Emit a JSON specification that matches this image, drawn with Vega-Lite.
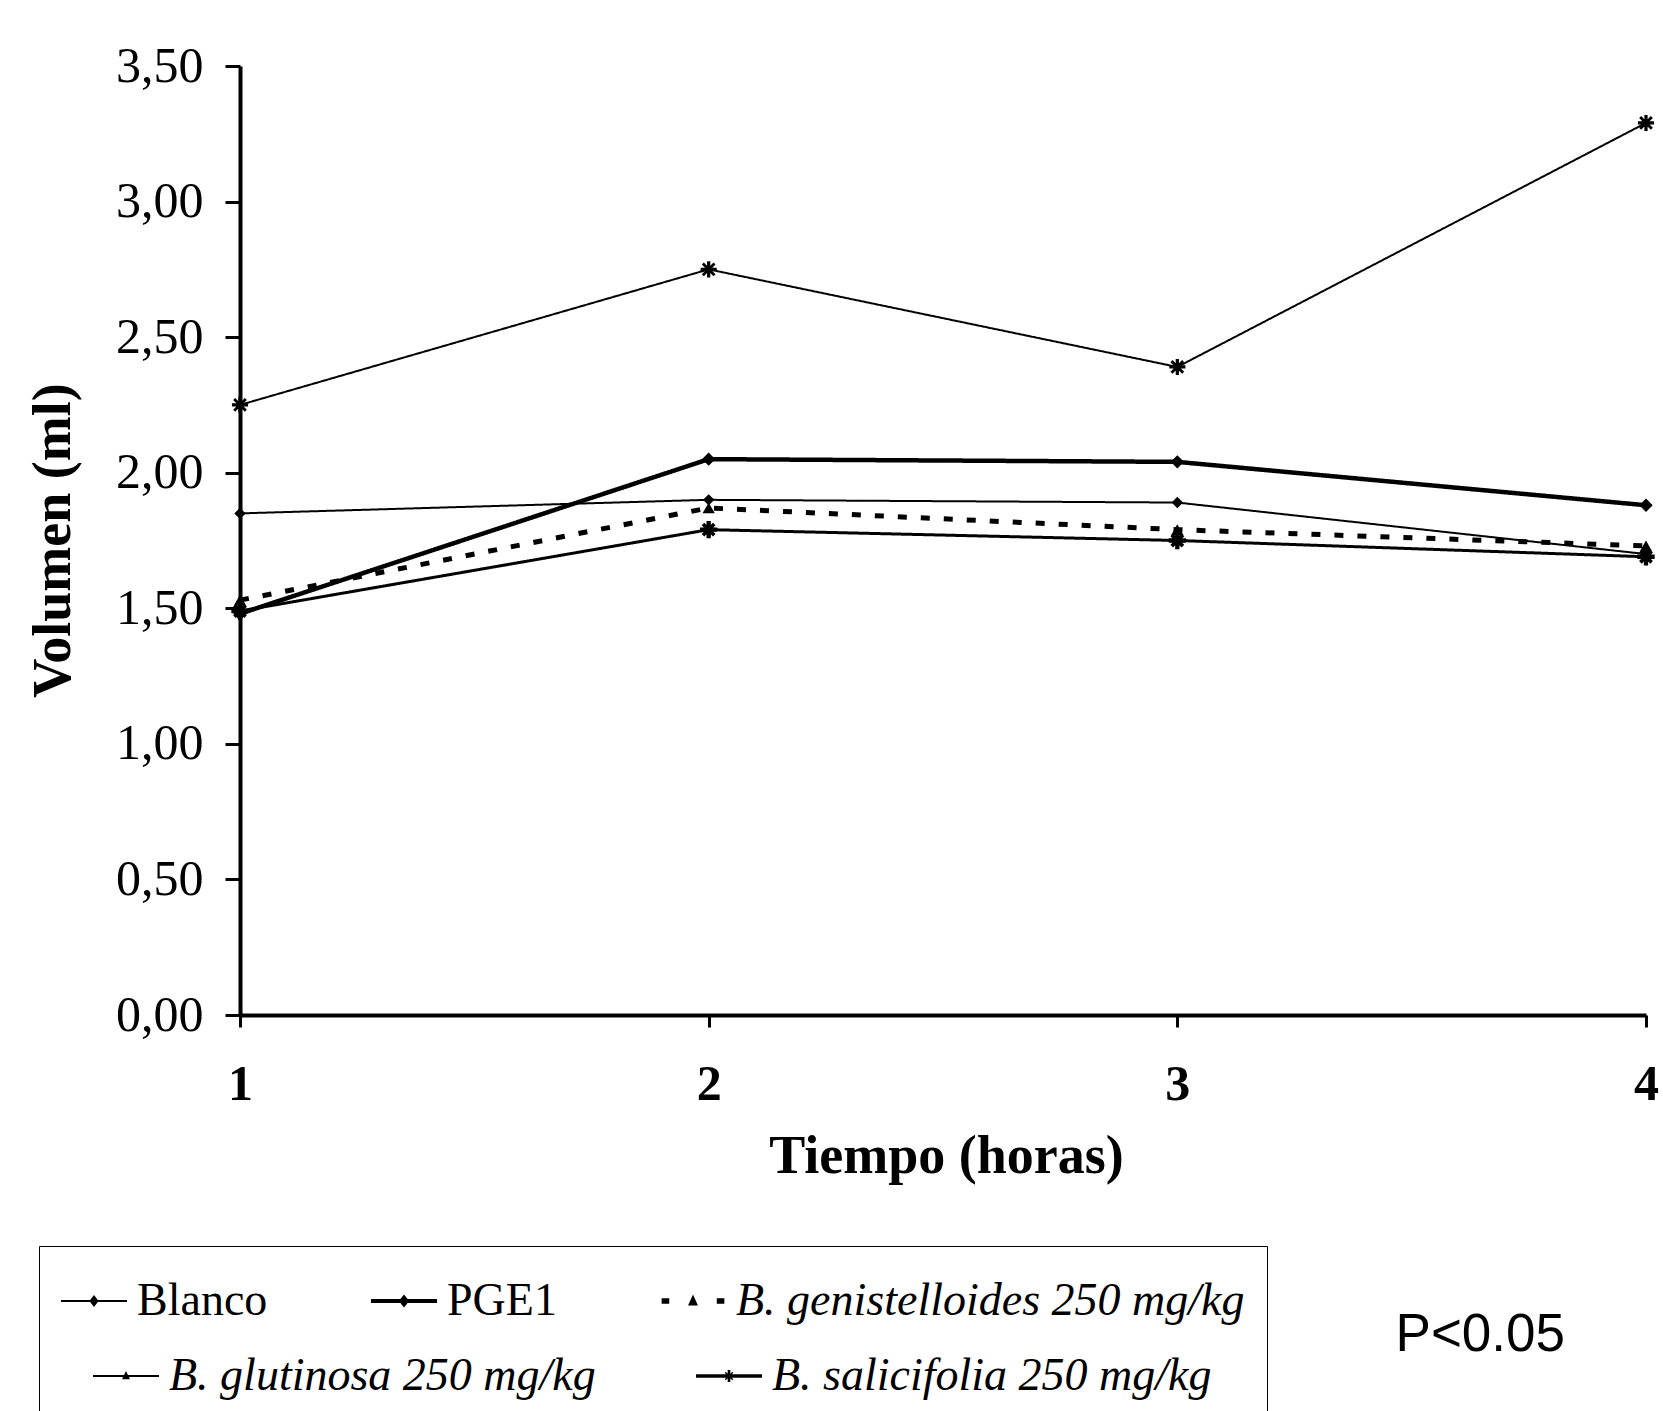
{
  "$schema": "https://vega.github.io/schema/vega-lite/v6.json",
  "width": 1406,
  "height": 949,
  "autosize": {"type": "none"},
  "padding": {"left": 240, "top": 66, "right": 17, "bottom": 396},
  "background": "white",
  "title": {"text": "P<0.05", "orient": "top", "anchor": "end", "frame": "group", "offset": -1347, "dx": -81, "baseline": "middle", "font": "Liberation Sans", "fontSize": 53, "fontWeight": "normal", "color": "black"},
  "data": {"values": [
    {"serie": "Blanco", "t": 1, "v": 1.85},
    {"serie": "Blanco", "t": 2, "v": 1.90},
    {"serie": "Blanco", "t": 3, "v": 1.89},
    {"serie": "Blanco", "t": 4, "v": 1.70},
    {"serie": "PGE1", "t": 1, "v": 1.48},
    {"serie": "PGE1", "t": 2, "v": 2.05},
    {"serie": "PGE1", "t": 3, "v": 2.04},
    {"serie": "PGE1", "t": 4, "v": 1.88},
    {"serie": "B. genistelloides 250 mg/kg", "t": 1, "v": 1.53},
    {"serie": "B. genistelloides 250 mg/kg", "t": 2, "v": 1.87},
    {"serie": "B. genistelloides 250 mg/kg", "t": 3, "v": 1.79},
    {"serie": "B. genistelloides 250 mg/kg", "t": 4, "v": 1.73},
    {"serie": "B. glutinosa 250 mg/kg", "t": 1, "v": 1.49},
    {"serie": "B. glutinosa 250 mg/kg", "t": 2, "v": 1.79},
    {"serie": "B. glutinosa 250 mg/kg", "t": 3, "v": 1.75},
    {"serie": "B. glutinosa 250 mg/kg", "t": 4, "v": 1.69},
    {"serie": "B. salicifolia 250 mg/kg", "t": 1, "v": 2.25},
    {"serie": "B. salicifolia 250 mg/kg", "t": 2, "v": 2.75},
    {"serie": "B. salicifolia 250 mg/kg", "t": 3, "v": 2.39},
    {"serie": "B. salicifolia 250 mg/kg", "t": 4, "v": 3.29}
  ]},
  "encoding": {
    "x": {
      "field": "t", "type": "quantitative",
      "scale": {"domain": [1, 4], "nice": false, "zero": false},
      "axis": {
        "values": [1, 2, 3, 4], "format": "d", "grid": false,
        "domainColor": "black", "domainWidth": 4, "tickColor": "black", "tickWidth": 3, "tickSize": 12,
        "labelFont": "Liberation Serif", "labelFontSize": 50, "labelFontWeight": "bold", "labelColor": "black",
        "labelPadding": 32, "labelFlush": false, "labelOverlap": false, "labelBound": false,
        "title": "Tiempo (horas)", "titleFont": "Liberation Serif", "titleFontSize": 54, "titleFontWeight": "bold", "titleColor": "black",
        "titleX": 706, "titleY": 141, "titleAlign": "center", "titleBaseline": "middle"
      }
    },
    "y": {
      "field": "v", "type": "quantitative",
      "scale": {"domain": [0, 3.5], "nice": false, "zero": true},
      "axis": {
        "values": [0, 0.5, 1, 1.5, 2, 2.5, 3, 3.5], "grid": false,
        "labelExpr": "replace(format(datum.value, '.2f'), '.', ',')",
        "domainColor": "black", "domainWidth": 4, "tickColor": "black", "tickWidth": 3, "tickSize": 15,
        "labelFont": "Liberation Serif", "labelFontSize": 50, "labelColor": "black",
        "labelPadding": 22, "labelOverlap": false, "labelBound": false, "labelFlush": false,
        "title": "Volumen (ml)", "titleFont": "Liberation Serif", "titleFontSize": 54, "titleFontWeight": "bold", "titleColor": "black",
        "titleX": -187, "titleY": 474, "titleAngle": -90, "titleAlign": "center", "titleBaseline": "middle"
      }
    }
  },
  "layer": [
    {
      "mark": {"type": "line", "color": "black"},
      "encoding": {
        "detail": {"field": "serie", "type": "nominal"},
        "strokeWidth": {"field": "serie", "type": "nominal", "legend": null,
          "scale": {"type": "ordinal", "domain": ["Blanco", "PGE1", "B. genistelloides 250 mg/kg", "B. glutinosa 250 mg/kg", "B. salicifolia 250 mg/kg"], "range": [2, 4.5, 5, 3, 2]}},
        "strokeDash": {"field": "serie", "type": "nominal", "legend": null,
          "scale": {"type": "ordinal", "domain": ["Blanco", "PGE1", "B. genistelloides 250 mg/kg", "B. glutinosa 250 mg/kg", "B. salicifolia 250 mg/kg"], "range": [[1, 0], [1, 0], [9, 14], [1, 0], [1, 0]]}}
      }
    },
    {
      "mark": {"type": "point", "filled": true, "color": "black", "opacity": 1},
      "encoding": {
        "shape": {"field": "serie", "type": "nominal", "legend": null,
          "scale": {"domain": ["Blanco", "PGE1", "B. genistelloides 250 mg/kg", "B. glutinosa 250 mg/kg", "B. salicifolia 250 mg/kg"],
            "range": ["diamond", "diamond", "triangle-up", "M-1,-0.25H1V0.25H-1Z M-0.25,-1H0.25V1H-0.25Z M-0.8,-0.5L-0.5,-0.8L0.8,0.5L0.5,0.8Z M0.5,-0.8L0.8,-0.5L-0.5,0.8L-0.8,0.5Z", "M-1,-0.2H1V0.2H-1Z M-0.2,-1H0.2V1H-0.2Z M-0.85,-0.6L-0.6,-0.85L0.85,0.6L0.6,0.85Z M0.6,-0.85L0.85,-0.6L-0.6,0.85L-0.85,0.6Z"]}},
        "size": {"field": "serie", "type": "nominal", "legend": null,
          "scale": {"type": "ordinal", "domain": ["Blanco", "PGE1", "B. genistelloides 250 mg/kg", "B. glutinosa 250 mg/kg", "B. salicifolia 250 mg/kg"], "range": [130, 180, 150, 300, 260]}}
      }
    },
    {
      "transform": [{"filter": "false"}],
      "mark": {"type": "point", "filled": true, "color": "black", "size": 4356},
      "encoding": {
        "shape": {"field": "serie", "type": "nominal",
          "scale": {"domain": ["Blanco", "PGE1", "B. genistelloides 250 mg/kg"],
            "range": [
              "M-1,-0.03H1V0.03H-1Z M0,-0.18L0.14,0L0,0.18L-0.14,0Z",
              "M-1,-0.06H1V0.06H-1Z M0,-0.2L0.16,0L0,0.2L-0.16,0Z",
              "M-0.95,-0.08H-0.72V0.08H-0.95Z M-0.15,0.14L0,-0.2L0.15,0.14Z M0.72,-0.08H0.95V0.08H0.72Z"
            ]},
          "legend": {
            "orient": "none", "legendX": -201, "legendY": 1180, "direction": "horizontal", "columns": 3,
            "columnPadding": 103, "padding": 22, "strokeColor": "black",
            "symbolSize": 4356, "symbolFillColor": "black", "symbolStrokeWidth": 0, "symbolOpacity": 1,
            "labelFont": "Liberation Serif", "labelFontSize": 46, "labelColor": "black", "labelOffset": 10, "labelLimit": 0,
            "labelFontStyle": {"expr": "indexof(datum.label, 'B.') === 0 ? 'italic' : 'normal'"},
            "title": " ", "titleOrient": "bottom", "titleFontSize": 46, "titlePadding": 40,
            "encode": {
              "legend": {"update": {"strokeWidth": {"value": 3}}}
            }
          }
        }
      }
    },
    {
      "transform": [{"filter": "false"}],
      "mark": {"type": "point", "filled": true, "color": "black", "size": 4356},
      "encoding": {
        "shape": {"field": "serie", "type": "nominal",
          "scale": {"domain": ["B. glutinosa 250 mg/kg", "B. salicifolia 250 mg/kg"],
            "range": [
              "M-1,-0.03H1V0.03H-1Z M-0.12,0.1L0,-0.15L0.12,0.1Z",
              "M-1,-0.05H1V0.05H-1Z M-0.04,-0.18H0.04V0.18H-0.04Z M-0.16,-0.04H0.16V0.04H-0.16Z M-0.13,-0.1L-0.1,-0.13L0.13,0.1L0.1,0.13Z M0.1,-0.13L0.13,-0.1L-0.1,0.13L-0.13,0.1Z"
            ]},
          "legend": {
            "orient": "none", "legendX": -147, "legendY": 1277, "direction": "horizontal", "columns": 2,
            "columnPadding": 100, "padding": 0,
            "symbolSize": 4356, "symbolFillColor": "black", "symbolStrokeWidth": 0, "symbolOpacity": 1,
            "labelFont": "Liberation Serif", "labelFontSize": 46, "labelColor": "black", "labelOffset": 10, "labelLimit": 0,
            "labelFontStyle": {"expr": "indexof(datum.label, 'B.') === 0 ? 'italic' : 'normal'"},
            "title": null
          }
        }
      }
    }
  ],
  "resolve": {"scale": {"shape": "independent"}},
  "config": {"view": {"stroke": null}}
}
